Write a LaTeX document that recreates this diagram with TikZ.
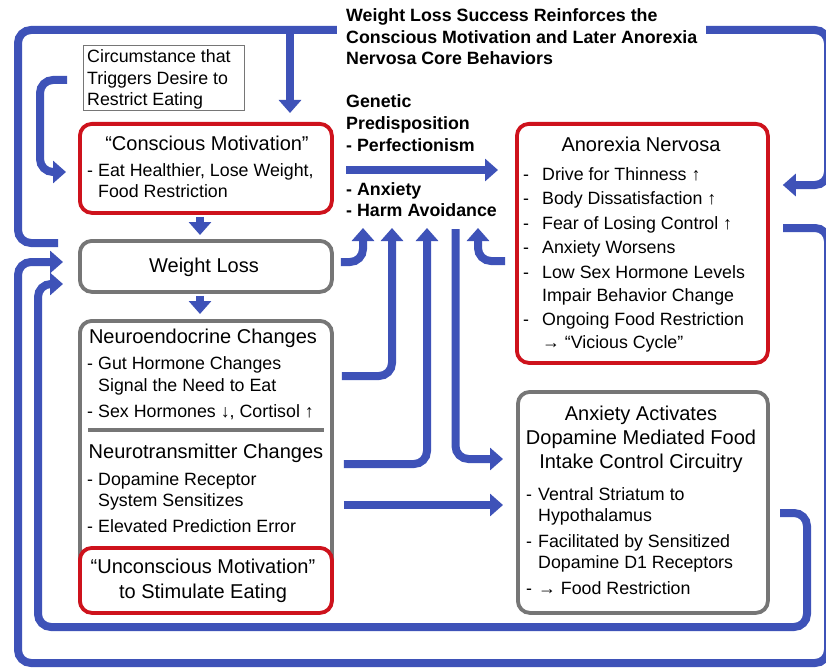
\documentclass[tikz,border=0pt]{standalone}
\usepackage{fontspec}
\setmainfont{Liberation Sans}
\usetikzlibrary{arrows.meta,calc}
\definecolor{cblue}{RGB}{62,82,184}
\definecolor{cred}{RGB}{206,18,28}
\definecolor{cgray}{RGB}{118,118,118}
\tikzset{
 redbox/.style={draw=cred, line width=3.8pt, rounded corners=12pt, fill=white, anchor=north west, inner sep=0pt},
 graybox/.style={draw=cgray, line width=3.8pt, rounded corners=12pt, fill=white, anchor=north west, inner sep=0pt},
 thinbox/.style={draw=cgray, line width=1.3pt, fill=white, anchor=north west, inner sep=0pt},
 conn/.style={draw=cblue, line width=8pt, rounded corners=13pt},
 arr/.style={conn, -{Triangle[width=22pt,length=13pt]}},
 hd/.style={font=\fontsize{20}{24}\selectfont, inner sep=0pt, align=center, anchor=base},
 bd/.style={font=\fontsize{17.8}{22}\selectfont, inner sep=0pt, align=left, anchor=base west},
 bb/.style={font=\bfseries\fontsize{17.8}{22}\selectfont, inner sep=0pt, align=left, anchor=base west},
}
\newcommand\dsh[1]{\makebox[#1][l]{-}}
\begin{document}
\begin{tikzpicture}[x=1pt,y=-1pt]
\fill[white] (0,0) rectangle (826,671);
\useasboundingbox (0,0) rectangle (826,671);

% boxes
\node[thinbox, minimum width=161pt, minimum height=65pt] (circ) at (83,45) {};
\node[redbox, minimum width=252pt, minimum height=89pt] (cm) at (78,122) {};
\node[graybox, minimum width=252pt, minimum height=51pt] (wl) at (78,239) {};
\node[graybox, minimum width=252pt, minimum height=291pt] (ne) at (78,319) {};
\node[redbox, minimum width=252pt, minimum height=65pt] (um) at (78,546) {};
\node[redbox, minimum width=251pt, minimum height=239pt] (an) at (515,122) {};
\node[graybox, minimum width=250pt, minimum height=221pt] (ax) at (516,390) {};
\draw[cgray, line width=4.5pt] ($(ne.west |- 0,430)+(10,0)$) -- ($(ne.east |- 0,430)+(-10,0)$);

% free-end coordinates
\coordinate (tstart) at (58,243);
\coordinate (tjoin) at (290,30);
\coordinate (ostart) at (783,228);
\coordinate (istart) at (780,513);
\coordinate (cstart) at (67,80);
\coordinate (gstart) at (346,170);
\coordinate (u1) at (363,228);
\coordinate (u2) at (392,228);
\coordinate (u3) at (427,228);
\coordinate (dstart) at (455.5,229);
\coordinate (u5) at (478,228);

% loops
\draw[arr, shorten >=13pt] (tstart) -- (18,243) -- (18,30) -- (828,30) -- (828,185) -- (an.east |- 0,185);
\draw[arr, shorten >=9pt] (tjoin) -- (tjoin |- cm.north);
\draw[arr, shorten >=15pt] (ostart) -- (828,228) -- (828,663) -- (18,663) -- (18,262) -- (wl.west |- 0,262);
\draw[arr, shorten >=15pt] (istart) -- (807,513) -- (807,627) -- (38,627) -- (38,284) -- (wl.west |- 0,284);
\draw[arr, shorten >=12pt] (cstart) -- (40,80) -- (40,172) -- (cm.west |- 0,172);

% vertical chain
\draw[arr, shorten <=2pt, shorten >=4pt] (cm.south -| 200,0) -- (wl.north -| 200,0);
\draw[arr, shorten <=2pt, shorten >=5pt] (wl.south -| 200,0) -- (ne.north -| 200,0);

% genetic arrow
\draw[arr, shorten >=17pt] (gstart) -- (an.west |- gstart);

% arrows up to anxiety / harm avoidance
\draw[arr, shorten <=7pt] (wl.east |- 0,262) -- (u1 |- 0,262) -- (u1);
\draw[arr, shorten <=8pt] (ne.east |- 0,376) -- (u2 |- 0,376) -- (u2);
\draw[arr, shorten <=10pt] (ne.east |- 0,464) -- (u3 |- 0,464) -- (u3);
\draw[arr, shorten >=13pt] (dstart) -- (dstart |- 0,459) -- (ax.west |- 0,459);
\draw[arr, shorten <=10pt] (an.west |- 0,261) -- (u5 |- 0,261) -- (u5);
\draw[arr, shorten <=10pt, shorten >=13pt] (ne.east |- 0,505) -- (ax.west |- 0,505);

% title (anchor = baseline of last line)
\node[bb, font=\bfseries\fontsize{17.8}{21.5}\selectfont, fill=white, inner xsep=9pt, inner ysep=2pt] (title) at (337,65)
 {Weight Loss Success Reinforces the\\Conscious Motivation and Later Anorexia\\Nervosa Core Behaviors};
\node[bb] (gen1) at (346,152) {Genetic\\Predisposition\\- Perfectionism};
\node[bb, font=\bfseries\fontsize{17.8}{21}\selectfont] (gen2) at (346,216) {- Anxiety\\- Harm Avoidance};

% texts
\node[bd, font=\fontsize{17.8}{21.5}\selectfont] (circT) at (87,106) {Circumstance that\\Triggers Desire to\\Restrict Eating};
\node[hd] (cmT) at (207,151) {“Conscious Motivation”};
\node[bd, font=\fontsize{17.8}{21}\selectfont] (cmI) at (87,197) {\dsh{11pt}Eat Healthier, Lose Weight,\\\hspace*{11pt}Food Restriction};
\node[hd] (wlT) at (204,272) {Weight Loss};
\node[hd] (neT1) at (203,343) {Neuroendocrine Changes};
\node[bd] (neI1) at (87,417) {\dsh{11pt}Gut Hormone Changes\\\hspace*{11pt}Signal the Need to Eat\\[4pt]\dsh{11pt}Sex Hormones ↓, Cortisol ↑};
\node[hd] (neT2) at (206,458) {Neurotransmitter Changes};
\node[bd, font=\fontsize{17.8}{21}\selectfont] (neI2) at (87,532) {\dsh{11pt}Dopamine Receptor\\\hspace*{11pt}System Sensitizes\\[5pt]\dsh{11pt}Elevated Prediction Error};
\node[hd, font=\fontsize{20}{25}\selectfont] (umT) at (203,598) {“Unconscious Motivation”\\to Stimulate Eating};
\node[hd] (anT) at (641,152) {Anorexia Nervosa};
\node[bd, font=\fontsize{17.8}{23}\selectfont] (anI) at (523,348.5) {\dsh{19pt}Drive for Thinness ↑\\[1.5pt]
 \dsh{19pt}Body Dissatisfaction ↑\\[1.5pt]
 \dsh{19pt}Fear of Losing Control ↑\\[1.5pt]
 \dsh{19pt}Anxiety Worsens\\[1.5pt]
 \dsh{19pt}Low Sex Hormone Levels\\\hspace*{19pt}Impair Behavior Change\\[1.5pt]
 \dsh{19pt}Ongoing Food Restriction\\\hspace*{19pt}→ “Vicious Cycle”};
\node[hd] (axT) at (641,468) {Anxiety Activates\\Dopamine Mediated Food\\Intake Control Circuitry};
\node[bd, font=\fontsize{17.8}{21}\selectfont] (axI) at (526,594) {\dsh{12pt}Ventral Striatum to\\\hspace*{12pt}Hypothalamus\\[5pt]
 \dsh{12pt}Facilitated by Sensitized\\\hspace*{12pt}Dopamine D1 Receptors\\[5pt]
 \dsh{12pt}→ Food Restriction};
\end{tikzpicture}
\end{document}
